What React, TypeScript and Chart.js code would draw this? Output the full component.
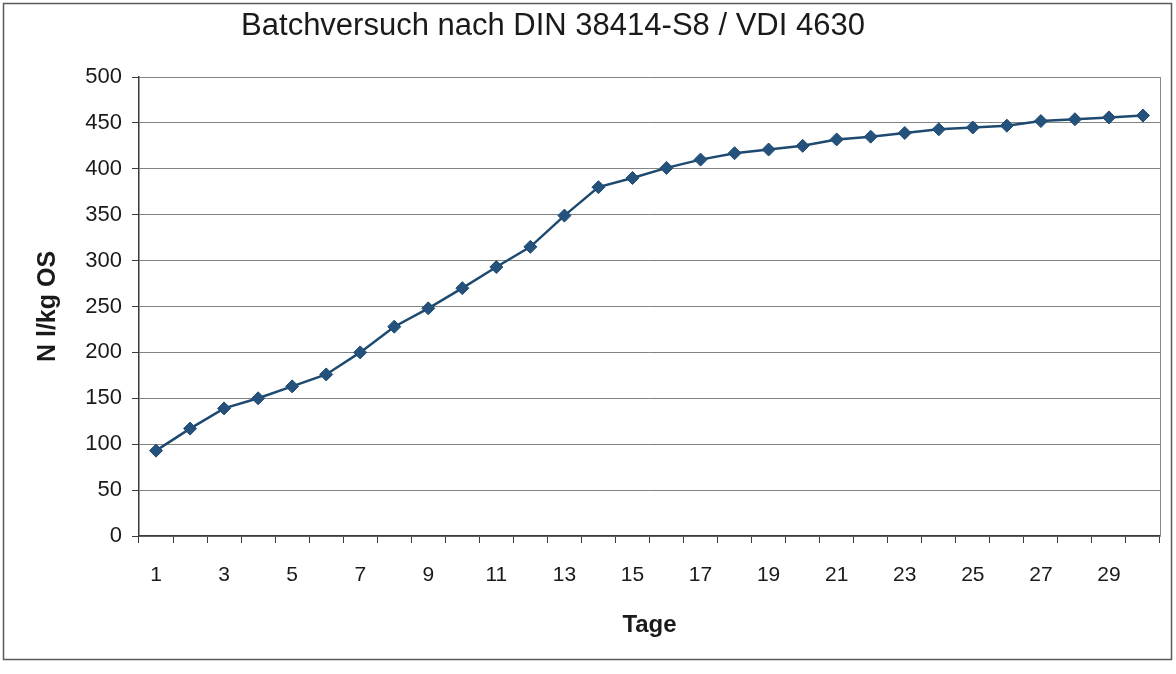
import React, { useEffect, useRef } from "react";
import { Chart, registerables } from "chart.js";

Chart.register(...registerables);

const TITLE = "Batchversuch nach DIN 38414-S8 / VDI 4630";
const X_TITLE = "Tage";
const Y_TITLE = "N l/kg OS";

const days: string[] = [
  "1", "2", "3", "4", "5", "6", "7", "8", "9", "10",
  "11", "12", "13", "14", "15", "16", "17", "18", "19", "20",
  "21", "22", "23", "24", "25", "26", "27", "28", "29", "30",
];

const gasYield: number[] = [
  93, 117, 139, 150, 163, 176, 200, 228, 248, 270,
  293, 315, 349, 380, 390, 401, 410, 417, 421, 425,
  432, 435, 439, 443, 445, 447, 452, 454, 456, 458,
];

const yMin = 0;
const yMax = 500;
const yStep = 50;

const FONT = "'Liberation Sans', Arial, sans-serif";

export default function App() {
  const ref = useRef<HTMLCanvasElement | null>(null);

  useEffect(() => {
    if (!ref.current) return;

    const decor = {
      id: "decor",
      afterDraw(chart: any) {
        const ctx = chart.ctx;
        const a = chart.chartArea;
        ctx.save();
        // outer frame
        ctx.strokeStyle = "#5a5a5a";
        ctx.lineWidth = 1.5;
        ctx.strokeRect(3.5, 3.5, 1168, 656);
        // right border of plot
        ctx.strokeStyle = "#8a8a8a";
        ctx.lineWidth = 1;
        ctx.beginPath();
        ctx.moveTo(Math.round(a.right) + 0.5, a.top);
        ctx.lineTo(Math.round(a.right) + 0.5, a.bottom);
        ctx.stroke();
        // title
        ctx.fillStyle = "#1a1a1a";
        ctx.font = `31px ${FONT}`;
        ctx.textAlign = "center";
        ctx.textBaseline = "middle";
        ctx.fillText(TITLE, 553, 26);
        ctx.restore();
      },
    };

    const chart = new Chart(ref.current, {
      type: "line",
      data: {
        labels: days,
        datasets: [
          {
            data: gasYield,
            borderColor: "#1f4a70",
            backgroundColor: "#24527c",
            borderWidth: 2.5,
            pointStyle: "rectRot",
            pointRadius: 6.5,
            pointBorderColor: "#1f4a70",
            pointBackgroundColor: "#24527c",
            pointBorderWidth: 1,
            tension: 0,
          },
        ],
      },
      options: {
        responsive: false,
        animation: false,
        layout: { padding: { left: 29, right: 16, top: 77, bottom: 30 } },
        plugins: {
          legend: { display: false },
          title: { display: false },
          tooltip: { enabled: false },
        },
        scales: {
          x: {
            type: "category",
            offset: true,
            afterFit: (s: any) => {
              s.height = 108;
            },
            grid: {
              display: true,
              offset: true,
              drawOnChartArea: false,
              drawTicks: true,
              tickLength: 7,
              tickColor: "#3a3a3a",
              color: "#3a3a3a",
            },
            border: { display: true, color: "#3a3a3a", width: 1.5 },
            ticks: {
              autoSkip: false,
              maxRotation: 0,
              padding: 20,
              color: "#1a1a1a",
              font: { family: FONT, size: 21 },
              callback: (_v: any, i: number) => (i % 2 === 0 ? days[i] : ""),
            },
            title: {
              display: true,
              text: X_TITLE,
              color: "#1a1a1a",
              font: { family: FONT, size: 24, weight: "bold" },
              padding: { top: 4, bottom: 4 },
            },
          },
          y: {
            min: yMin,
            max: yMax,
            afterFit: (s: any) => {
              s.width = 110;
            },
            grid: {
              color: "#828282",
              lineWidth: 1,
              drawTicks: true,
              tickLength: 7,
              tickColor: "#3a3a3a",
            },
            border: { display: true, color: "#3a3a3a", width: 1.5 },
            ticks: {
              stepSize: yStep,
              padding: 10,
              color: "#1a1a1a",
              font: { family: FONT, size: 22 },
            },
            title: {
              display: true,
              text: Y_TITLE,
              color: "#1a1a1a",
              font: { family: FONT, size: 25, weight: "bold" },
              padding: { top: 4, bottom: 4 },
            },
          },
        },
      },
      plugins: [decor],
    } as any);

    return () => chart.destroy();
  }, []);

  return (
    <div style={{ position: "absolute", left: 0, top: 0, width: 1176, height: 674, background: "#fff" }}>
      <canvas ref={ref} width={1176} height={674} />
    </div>
  );
}
